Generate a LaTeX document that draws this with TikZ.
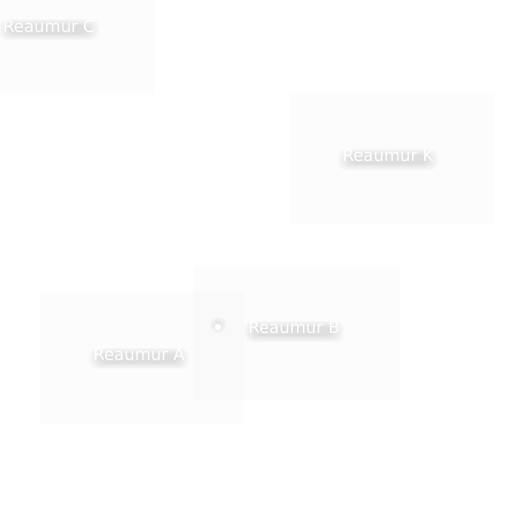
\documentclass[tikz,border=0pt]{standalone}
\usepackage{fontspec}
\setmainfont{DejaVu Sans}
\tikzset{
  panel/.style={fill=black, fill opacity=0.012},
  lbl/.style={text=white, font=\fontsize{16.5}{18}\selectfont, inner sep=0pt},
}
\newcommand{\glowlabel}[3]{%
  \foreach \s in {0,2,4,6,8,10}{
    \fill[black, opacity=0.018, rounded corners=8]
      ([shift={(-50+\s,-7+\s*0.6)}]#1) rectangle ([shift={(50-\s,14-\s*0.6)}]#1);}
  \node[lbl] (#2) at (#1) {#3};
}
\begin{document}
\begin{tikzpicture}[x=1pt,y=-1pt]
\useasboundingbox (0,0) rectangle (512,512);
\fill[white] (0,0) rectangle (512,512);
% panels
\path[panel] (0,0) rectangle (155,95);
\path[panel] (289,93) rectangle (495,225);
\path[panel] (40,292) rectangle (244,425);
\path[panel] (193,265) rectangle (400,400);
% labels
\coordinate (pc) at (49,26);
\coordinate (pk) at (388,156);
\coordinate (pa) at (139,355);
\coordinate (pb) at (294,328);
\glowlabel{pc}{lc}{Reaumur C}
\glowlabel{pk}{lk}{Reaumur K}
\glowlabel{pa}{la}{Reaumur A}
\glowlabel{pb}{lb}{Reaumur B}
% dot
\coordinate (pd) at (218,327);
\foreach \r in {4,6,8}{
  \fill[black, opacity=0.025] ([yshift=2]pd) circle (\r);}
\fill[white] (pd) circle (3.2);
\end{tikzpicture}
\end{document}
